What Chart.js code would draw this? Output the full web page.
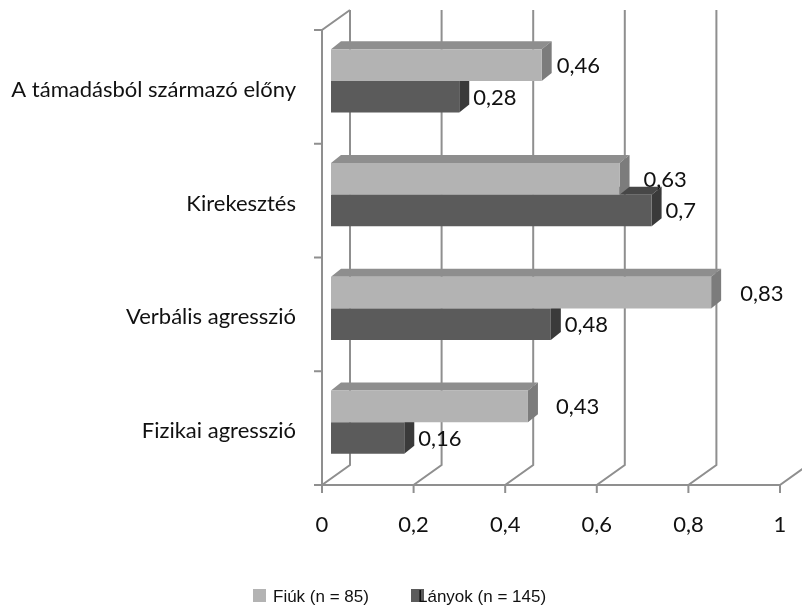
<!doctype html>
<html lang="hu">
<head>
<meta charset="utf-8">
<title>Agresszió – Fiúk és Lányok</title>
<style>
  html, body { margin: 0; padding: 0; background: #fff; }
</style>
</head>
<body>
<canvas id="myChart" width="802" height="608"></canvas>
<script src="https://cdn.jsdelivr.net/npm/chart.js/dist/chart.umd.min.js"></script>
<script>
// data
const categories = ['A támadásból származó előny', 'Kirekesztés', 'Verbális agresszió', 'Fizikai agresszió'];
const seriesNames = ['Fiúk (n = 85)', 'Lányok (n = 145)'];
const fiuk = [0.46, 0.63, 0.83, 0.43];
const lanyok = [0.28, 0.7, 0.48, 0.16];
const xTicks = [0, 0.2, 0.4, 0.6, 0.8, 1];

// 3d look
const DEPTH = { x: 10, y: -8 };   // bar depth
const FRONT = { x: -9, y: 6 };    // front edge of the box, relative to bar plane
const BACK = { x: 19, y: -14 };   // back wall
const frontColors = ['#b3b3b3', '#5b5b5b'];
const faceColors = [
  { top: '#8e8e8e', side: '#7c7c7c' },
  { top: '#474747', side: '#3a3a3a' }
];
const labelGap = [[15, 24, 29, 28], [14, 14, 14, 14]];
const textFont = 'Lato, "Open Sans", sans-serif';

function poly(ctx, pts, fill) {
  ctx.beginPath();
  ctx.moveTo(pts[0][0], pts[0][1]);
  for (let i = 1; i < pts.length; i++) ctx.lineTo(pts[i][0], pts[i][1]);
  ctx.closePath();
  ctx.fillStyle = fill;
  ctx.fill();
}

const box3d = {
  id: 'box3d',
  beforeDatasetsDraw(chart) {
    const { ctx, chartArea: a, scales: { x } } = chart;
    ctx.save();
    ctx.strokeStyle = '#8f8f8f';
    ctx.lineWidth = 2;
    // back wall gridlines, floor diagonals, ticks
    xTicks.forEach(v => {
      const px = x.getPixelForValue(v);
      ctx.beginPath();
      ctx.moveTo(px + BACK.x, a.top + BACK.y);
      ctx.lineTo(px + BACK.x, a.bottom + BACK.y);
      ctx.lineTo(px + FRONT.x, a.bottom + FRONT.y);
      ctx.lineTo(px + FRONT.x, a.bottom + FRONT.y + 8);
      ctx.stroke();
    });
    const x0 = x.getPixelForValue(0), x1 = x.getPixelForValue(1);
    ctx.beginPath();
    ctx.moveTo(x0 + FRONT.x, a.bottom + FRONT.y);
    ctx.lineTo(x1 + FRONT.x, a.bottom + FRONT.y);
    // left wall
    ctx.moveTo(x0 + BACK.x, a.top + BACK.y);
    ctx.lineTo(x0 + FRONT.x, a.top + FRONT.y);
    ctx.lineTo(x0 + FRONT.x, a.bottom + FRONT.y);
    for (let i = 0; i <= categories.length; i++) {
      const y = a.top + i * a.height / categories.length + FRONT.y;
      ctx.moveTo(x0 + FRONT.x - 8, y);
      ctx.lineTo(x0 + FRONT.x, y);
    }
    ctx.stroke();

    // top and side faces, dark series first
    [1, 0].forEach(di => {
      chart.getDatasetMeta(di).data.forEach(bar => {
        const p = bar.getProps(['x', 'y', 'base', 'height'], true);
        const l = p.base, r = p.x, t = p.y - p.height / 2, b = p.y + p.height / 2;
        poly(ctx, [[l, t], [r, t], [r + DEPTH.x, t + DEPTH.y], [l + DEPTH.x, t + DEPTH.y]], faceColors[di].top);
        poly(ctx, [[r, t], [r, b], [r + DEPTH.x, b + DEPTH.y], [r + DEPTH.x, t + DEPTH.y]], faceColors[di].side);
      });
    });
    ctx.restore();
  },
  afterDatasetsDraw(chart) {
    const { ctx, chartArea: a, scales: { x, y } } = chart;
    ctx.save();
    ctx.fillStyle = '#111';
    ctx.font = '22px ' + textFont;
    // value labels
    ctx.textAlign = 'left';
    ctx.textBaseline = 'middle';
    [0, 1].forEach(di => {
      chart.getDatasetMeta(di).data.forEach((bar, i) => {
        const v = chart.data.datasets[di].data[i];
        ctx.fillText(String(v).replace('.', ','), bar.x + labelGap[di][i], bar.y + 1);
      });
    });
    // category labels
    ctx.textAlign = 'right';
    categories.forEach((c, i) => {
      ctx.fillText(c, 296, y.getPixelForValue(i) + 9);
    });
    // x tick labels on the front edge
    ctx.textAlign = 'center';
    xTicks.forEach(v => {
      ctx.fillText(String(v).replace('.', ','), x.getPixelForValue(v) + FRONT.x, a.bottom + 46);
    });
    // legend
    ctx.font = '17px "Liberation Sans", Arial, sans-serif';
    ctx.textAlign = 'left';
    ctx.textBaseline = 'alphabetic';
    const items = [{ box: 253, text: 273 }, { box: 411, text: 418 }];
    items.forEach((it, di) => {
      ctx.fillStyle = frontColors[di];
      ctx.fillRect(it.box, 589, 13, 13);
      ctx.fillStyle = '#111';
      ctx.fillText(chart.data.datasets[di].label, it.text, 602);
    });
    ctx.restore();
  }
};

const data = {
  labels: categories,
  datasets: [
    { label: seriesNames[0], data: fiuk, backgroundColor: frontColors[0] },
    { label: seriesNames[1], data: lanyok, backgroundColor: frontColors[1] }
  ]
};

const config = {
  type: 'bar',
  data,
  options: {
    indexAxis: 'y',
    responsive: false,
    animation: false,
    categoryPercentage: 0.554,
    barPercentage: 1,
    layout: { padding: { left: 331, right: 13, top: 24, bottom: 129 } },
    plugins: { legend: { display: false }, tooltip: { enabled: false } },
    scales: {
      x: { type: 'linear', min: 0, max: 1, display: false },
      y: { display: false }
    }
  },
  plugins: [box3d]
};

const myChart = new Chart(document.getElementById('myChart'), config);
</script>
</body>
</html>
